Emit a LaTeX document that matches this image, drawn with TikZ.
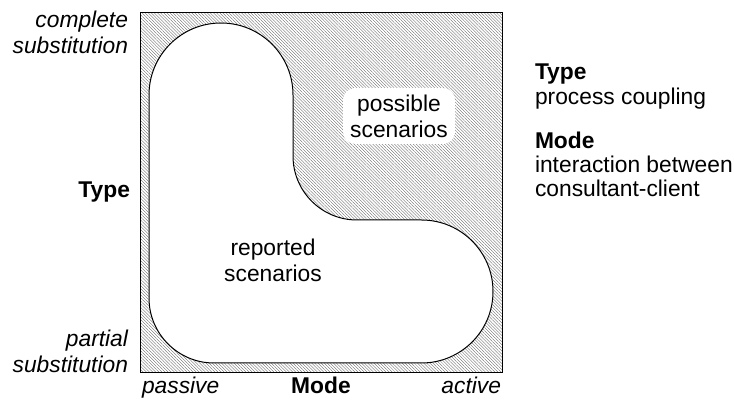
\documentclass[tikz,border=0pt]{standalone}
\usepackage{fontspec}
\setmainfont{Liberation Sans}
\usetikzlibrary{patterns.meta}
\begin{document}
\begin{tikzpicture}[x=1pt,y=-1pt,inner sep=0pt,outer sep=0pt,line width=1pt,
txt/.style={font=\fontsize{22.8}{26}\selectfont,align=center},
axislabel/.style={font=\fontsize{22.8}{26}\selectfont\itshape,align=right},
axisend/.style={font=\fontsize{22.8}{26}\selectfont\itshape},
axishead/.style={font=\fontsize{22.8}{26}\selectfont\bfseries},
legend/.style={font=\fontsize{22.8}{24}\selectfont,anchor=base west},
hatch/.style={pattern={Lines[angle=-45,distance=2.2pt,line width=0.35pt]},pattern color=black!60}]

\useasboundingbox (0,0) rectangle (734,403);

% frame of possible scenarios
\draw[hatch] (140,13) rectangle (502,373);

% reported scenarios
\draw[fill=white] (149,95) arc[start angle=180,end angle=0,radius=72pt]
  -- (293,156) arc[start angle=180,end angle=270,radius=64pt]
  -- (421.5,220) arc[start angle=90,end angle=-90,radius=71.5pt]
  -- (214,363) arc[start angle=270,end angle=180,radius=65pt]
  -- cycle;

\draw (399,116) node[txt,fill=white,rounded corners=12pt,minimum width=112pt,minimum height=56pt] (pos) {possible\\scenarios};
\draw (273,260) node[txt] (rep) {reported\\scenarios};

% axes
\draw (128,32) node[axislabel,anchor=east] (full) {complete\\substitution};
\draw (128,351) node[axislabel,anchor=east] (part) {partial\\substitution};
\draw (130,198) node[axishead,anchor=base east] (type) {Type};
\draw (142,393) node[axisend,anchor=base west] (pass) {passive};
\draw (321,393) node[axishead,anchor=base] (mode) {Mode};
\draw (501,393) node[axisend,anchor=base east] (act) {active};

% legend
\draw (535,80) node[legend,font=\fontsize{22.8}{24}\selectfont\bfseries] (ltype) {Type};
\draw (535,105) node[legend] (ltypetxt) {process coupling};
\draw (535,149) node[legend,font=\fontsize{22.8}{24}\selectfont\bfseries] (lmode) {Mode};
\draw (535,173) node[legend] (lmodetxt) {interaction between};
\draw (535,197) node[legend] (lmodetxt2) {consultant-client};
\end{tikzpicture}
\end{document}
